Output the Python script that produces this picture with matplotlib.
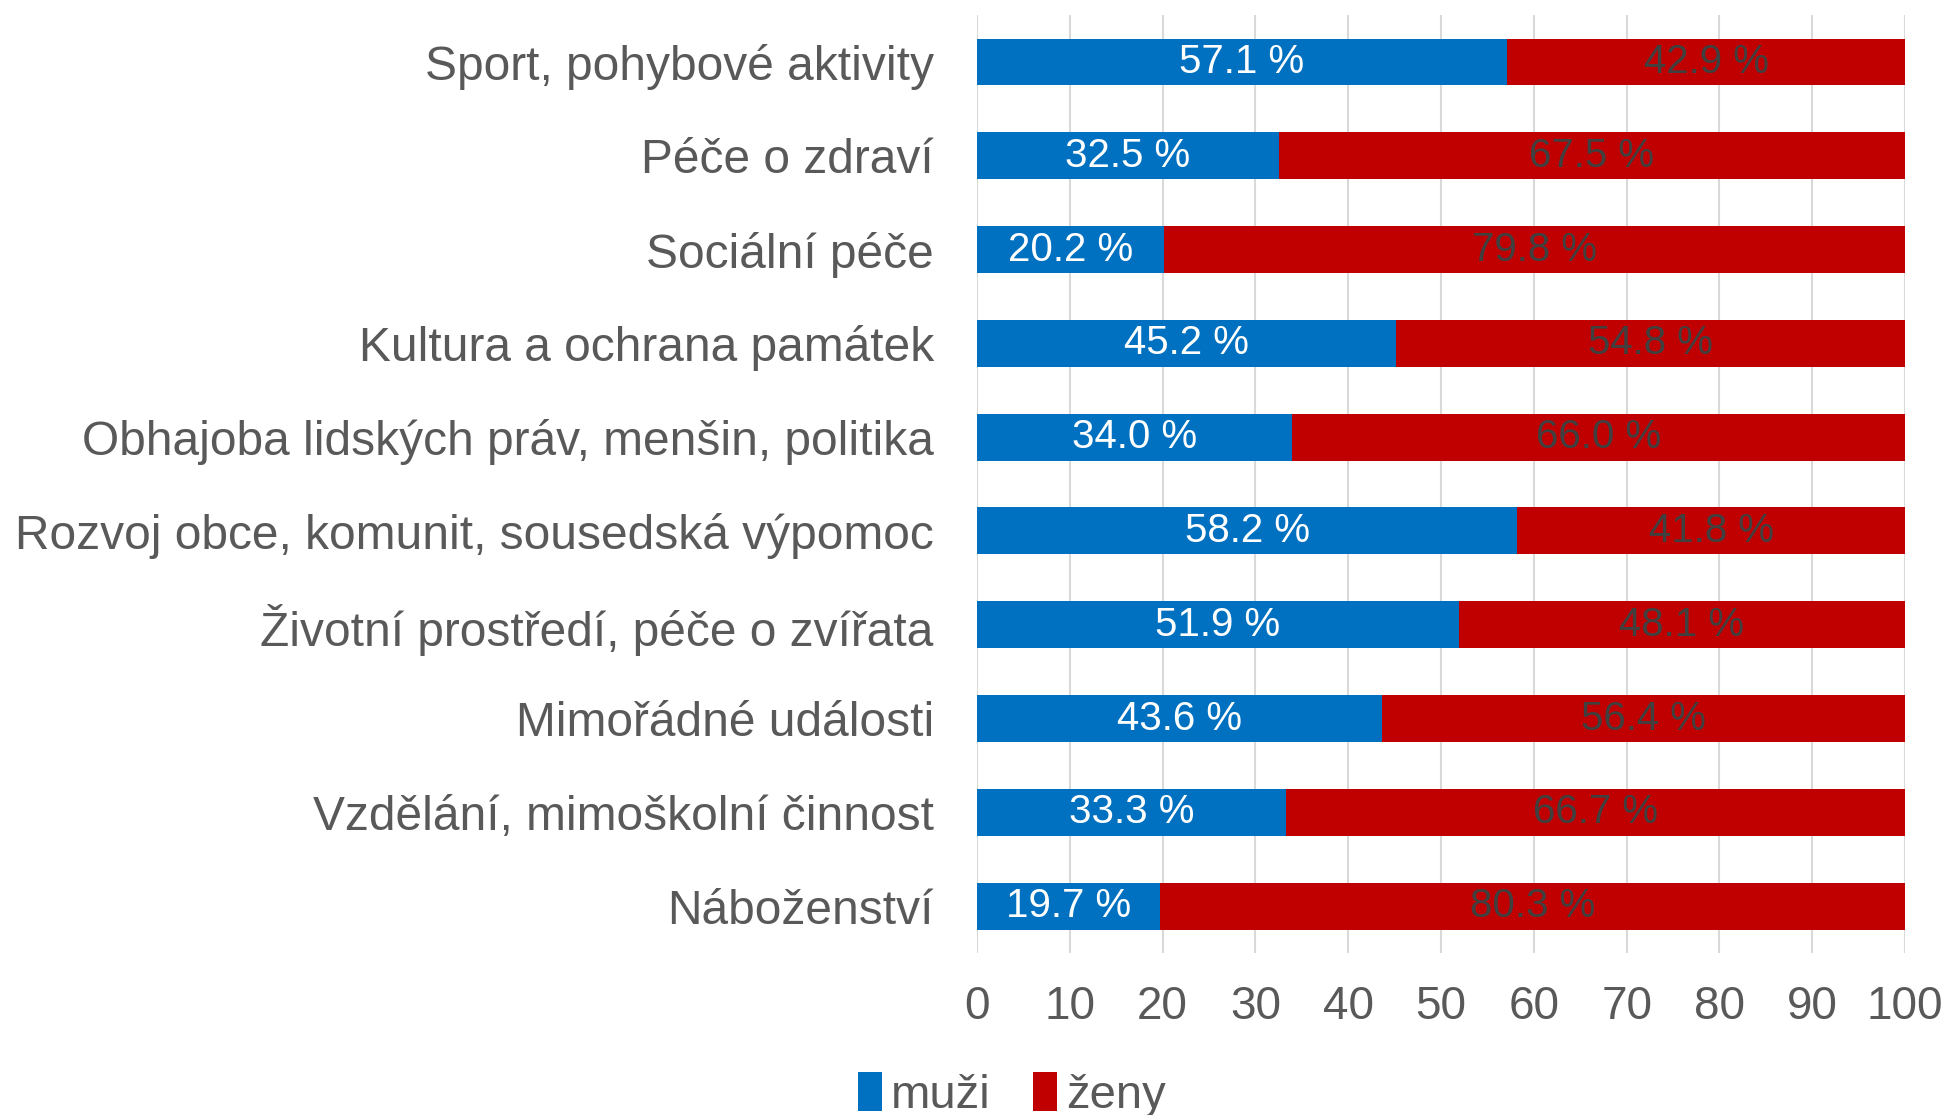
import matplotlib
matplotlib.use('Agg')
import matplotlib.pyplot as plt
import numpy as np

# ── data ─────────────────────────────────────────────────────────────────────
CATEGORIES = [
    'Sport, pohybové aktivity',
    'Péče o zdraví',
    'Sociální péče',
    'Kultura a ochrana památek',
    'Obhajoba lidských práv, menšin, politika',
    'Rozvoj obce, komunit, sousedská výpomoc',
    'Životní prostředí, péče o zvířata',
    'Mimořádné události',
    'Vzdělání, mimoškolní činnost',
    'Náboženství',
]
MUZI = [57.1, 32.5, 20.2, 45.2, 34.0, 58.2, 51.9, 43.6, 33.3, 19.7]
ZENY = [42.9, 67.5, 79.8, 54.8, 66.0, 41.8, 48.1, 56.4, 66.7, 80.3]
XTICKS = [0, 10, 20, 30, 40, 50, 60, 70, 80, 90, 100]

# ── style ────────────────────────────────────────────────────────────────────
BLUE = '#0070C0'
RED = '#C00000'
GREY = '#595959'
DARK = '#404040'

plt.rcParams['font.family'] = ['Liberation Sans', 'DejaVu Sans']

fig = plt.figure(figsize=(19.46, 11.15), dpi=100)
ax = fig.add_axes([0.502, 0.1453, 0.477, 0.8412])

y = np.arange(len(CATEGORIES))
b1 = ax.barh(y, MUZI, height=0.5, color=BLUE, label='muži', zorder=3)
b2 = ax.barh(y, ZENY, left=MUZI, height=0.5, color=RED, label='ženy', zorder=3)

ax.bar_label(b1, labels=[f'{v:.1f} %' for v in MUZI], label_type='center',
             color='white', fontsize=29)
ax.bar_label(b2, labels=[f'{v:.1f} %' for v in ZENY], label_type='center',
             color=DARK, fontsize=29)

ax.set_xlim(0, 100)
ax.set_ylim(-0.5, len(CATEGORIES) - 0.5)
ax.invert_yaxis()
ax.set_xticks(XTICKS)
ax.set_yticks(y)
ax.set_yticklabels(CATEGORIES)
ax.tick_params(axis='y', length=0, pad=31, labelsize=34.5, labelcolor=GREY)
ax.tick_params(axis='x', length=0, pad=23, labelsize=33, labelcolor=GREY)

ax.grid(True, axis='x', color='#D9D9D9', linewidth=1.5, zorder=0)
for s in ax.spines.values():
    s.set_visible(False)

fig.legend(handles=[b1, b2], labels=['muži', 'ženy'], loc='center',
           bbox_to_anchor=(0.52, 0.018), ncol=2, frameon=False,
           fontsize=34, labelcolor=GREY, handlelength=0.5, handleheight=0.9,
           handletextpad=0.2, columnspacing=0.9)

fig.savefig('out.png', dpi=100)
